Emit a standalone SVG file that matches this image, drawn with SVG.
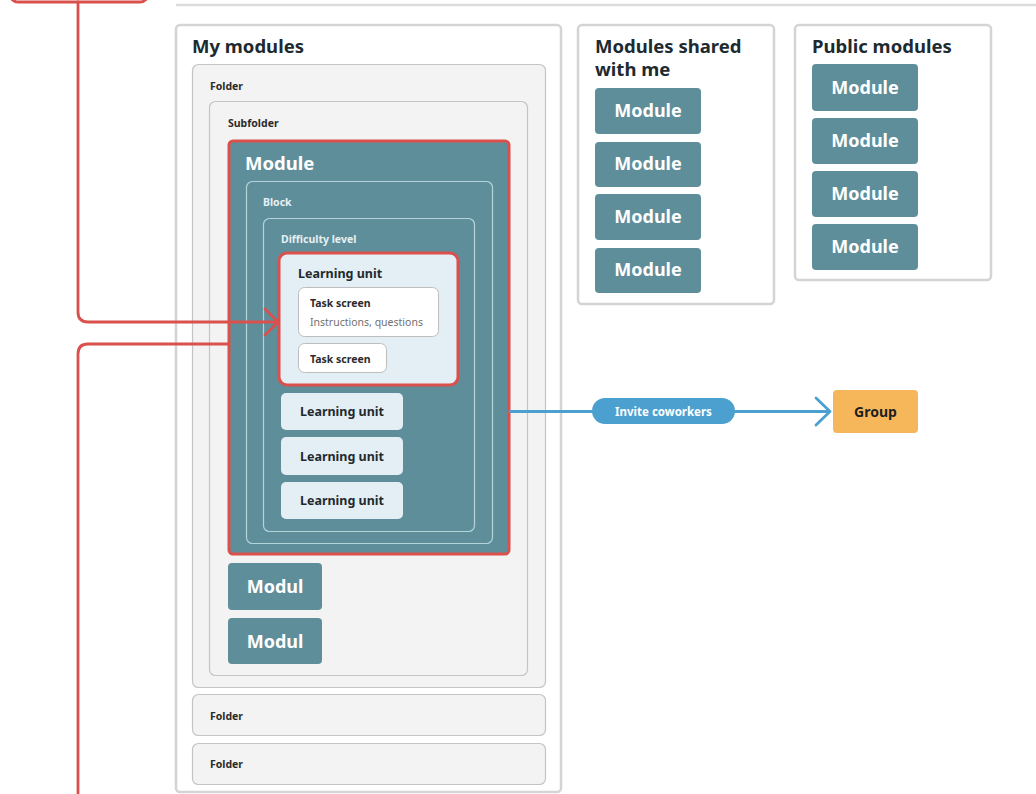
<svg xmlns="http://www.w3.org/2000/svg" width="1036" height="794" viewBox="0 0 1036 794">
  <defs>
    <style>
      text { font-family: "Noto Sans", "Liberation Sans", sans-serif; font-weight: 700; }
      .panel { fill: #ffffff; stroke: #d4d4d4; stroke-width: 2.5; }
      .folder { fill: #f3f3f3; stroke: #c4c4c4; stroke-width: 1.2; }
      .teal { fill: #5f8e9b; }
      .inner { fill: none; stroke: #b4d4dc; stroke-width: 1.2; }
      .unit { fill: #e4eff5; }
      .card { fill: #ffffff; stroke: #bdbdbd; stroke-width: 1; }
      .hl { stroke: #d9504c; stroke-width: 3; }
      .title { font-size: 18.5px; fill: #1d2a2f; }
      .small { font-size: 10.5px; fill: #2b2b2b; }
      .note { font-size: 10.5px; font-weight: 400; fill: #707070; }
      .light { font-size: 10.5px; fill: #e6f0f3; }
      .btn { font-size: 18px; fill: #ffffff; text-anchor: middle; }
      .unitlabel { font-size: 12.5px; fill: #1f2a2e; }
      .red { fill: none; stroke: #d9504c; stroke-width: 2.8; stroke-linejoin: round; stroke-linecap: round; }
      .blue { fill: none; stroke: #4ba0cf; stroke-width: 2.8; stroke-linejoin: round; stroke-linecap: round; }
    </style>
  </defs>

  <rect width="1036" height="794" fill="#ffffff"/>

  <!-- top bar and partially visible box -->
  <line x1="176" y1="5" x2="1036" y2="5" stroke="#dcdcdc" stroke-width="2.5"/>
  <rect x="10" y="-40" width="138" height="42" rx="8" fill="#ffffff" stroke="#d9504c" stroke-width="3"/>

  <!-- My modules panel -->
  <g id="my-modules">
    <rect class="panel" x="176" y="25" width="385" height="767" rx="4"/>
    <text class="title" x="192" y="53">My modules</text>
  </g>

  <g id="folder-1">
    <rect class="folder" x="192.5" y="64.5" width="353" height="623" rx="6"/>
    <text class="small" x="210" y="90">Folder</text>
  </g>

  <g id="subfolder">
    <rect class="folder" x="209.5" y="101.5" width="318" height="574" rx="6"/>
    <text class="small" x="228" y="127">Subfolder</text>
  </g>

  <g id="module-main">
    <rect class="teal hl" x="229" y="141" width="280" height="413" rx="4"/>
    <text x="245" y="170" font-size="18.5" fill="#ffffff">Module</text>
  </g>

  <g id="block">
    <rect class="inner" x="246.5" y="181.5" width="246" height="362" rx="6"/>
    <text class="light" x="263" y="206">Block</text>
  </g>

  <g id="difficulty-level">
    <rect class="inner" x="263.5" y="218.5" width="211" height="313" rx="6"/>
    <text class="light" x="281" y="243">Difficulty level</text>
  </g>

  <g id="learning-unit-main">
    <rect class="unit hl" x="279" y="253" width="179" height="132" rx="8"/>
    <text class="unitlabel" x="298" y="278">Learning unit</text>
  </g>

  <g id="task-screen-1">
    <rect class="card" x="298.5" y="287.5" width="140" height="49" rx="6"/>
    <text class="small" x="310" y="307">Task screen</text>
    <text class="note" x="310" y="326">Instructions, questions</text>
  </g>

  <g id="task-screen-2">
    <rect class="card" x="298.5" y="343.5" width="88" height="29" rx="6"/>
    <text class="small" x="310" y="363">Task screen</text>
  </g>

  <g id="learning-unit-2">
    <rect class="unit" x="281" y="393" width="122" height="37" rx="5"/>
    <text class="unitlabel" x="342" y="416" text-anchor="middle">Learning unit</text>
  </g>
  <g id="learning-unit-3">
    <rect class="unit" x="281" y="437" width="122" height="38" rx="5"/>
    <text class="unitlabel" x="342" y="461" text-anchor="middle">Learning unit</text>
  </g>
  <g id="learning-unit-4">
    <rect class="unit" x="281" y="482" width="122" height="37" rx="5"/>
    <text class="unitlabel" x="342" y="505" text-anchor="middle">Learning unit</text>
  </g>

  <g id="modul-1">
    <rect class="teal" x="228" y="563" width="94" height="47" rx="4"/>
    <text class="btn" x="275" y="593">Modul</text>
  </g>
  <g id="modul-2">
    <rect class="teal" x="228" y="618" width="94" height="46" rx="4"/>
    <text class="btn" x="275" y="648">Modul</text>
  </g>

  <g id="folder-2">
    <rect class="folder" x="192.5" y="694.5" width="353" height="41" rx="6"/>
    <text class="small" x="210" y="720">Folder</text>
  </g>
  <g id="folder-3">
    <rect class="folder" x="192.5" y="743.5" width="353" height="41" rx="6"/>
    <text class="small" x="210" y="768">Folder</text>
  </g>

  <!-- Modules shared with me -->
  <g id="shared-panel">
    <rect class="panel" x="578" y="25" width="196" height="279" rx="4"/>
    <text class="title" x="595" y="53">Modules shared</text>
    <text class="title" x="595" y="76">with me</text>
  </g>
  <g id="shared-module-1">
    <rect class="teal" x="595" y="88" width="106" height="46" rx="4"/>
    <text class="btn" x="648" y="117">Module</text>
  </g>
  <g id="shared-module-2">
    <rect class="teal" x="595" y="142" width="106" height="45" rx="4"/>
    <text class="btn" x="648" y="170">Module</text>
  </g>
  <g id="shared-module-3">
    <rect class="teal" x="595" y="194" width="106" height="46" rx="4"/>
    <text class="btn" x="648" y="223">Module</text>
  </g>
  <g id="shared-module-4">
    <rect class="teal" x="595" y="248" width="106" height="45" rx="4"/>
    <text class="btn" x="648" y="276">Module</text>
  </g>

  <!-- Public modules -->
  <g id="public-panel">
    <rect class="panel" x="795" y="25" width="196" height="255" rx="4"/>
    <text class="title" x="812" y="53">Public modules</text>
  </g>
  <g id="public-module-1">
    <rect class="teal" x="812" y="64" width="106" height="47" rx="4"/>
    <text class="btn" x="865" y="94">Module</text>
  </g>
  <g id="public-module-2">
    <rect class="teal" x="812" y="118" width="106" height="46" rx="4"/>
    <text class="btn" x="865" y="147">Module</text>
  </g>
  <g id="public-module-3">
    <rect class="teal" x="812" y="171" width="106" height="46" rx="4"/>
    <text class="btn" x="865" y="200">Module</text>
  </g>
  <g id="public-module-4">
    <rect class="teal" x="812" y="224" width="106" height="46" rx="4"/>
    <text class="btn" x="865" y="253">Module</text>
  </g>

  <!-- Group -->
  <g id="group">
    <rect x="833" y="390" width="85" height="43" rx="4" fill="#f6b75b"/>
    <text x="875.5" y="417" font-size="14" fill="#1f1f1f" text-anchor="middle">Group</text>
  </g>

  <!-- Connectors -->
  <g id="connectors">
    <path class="red" d="M78 2 V312 Q78 322 88 322 H277"/>
    <path class="red" d="M265 309 L278 322 L265 335"/>
    <path class="red" d="M229 344 H88 Q78 344 78 354 V800"/>
    <path class="blue" d="M510 411.5 H829"/>
    <path class="blue" d="M816 398 L830 411.5 L816 425"/>
    <rect x="592" y="398" width="143" height="26" rx="13" fill="#4ba0cf"/>
    <text x="663.5" y="415.5" font-size="11.5" fill="#ffffff" text-anchor="middle">Invite coworkers</text>
  </g>
</svg>
